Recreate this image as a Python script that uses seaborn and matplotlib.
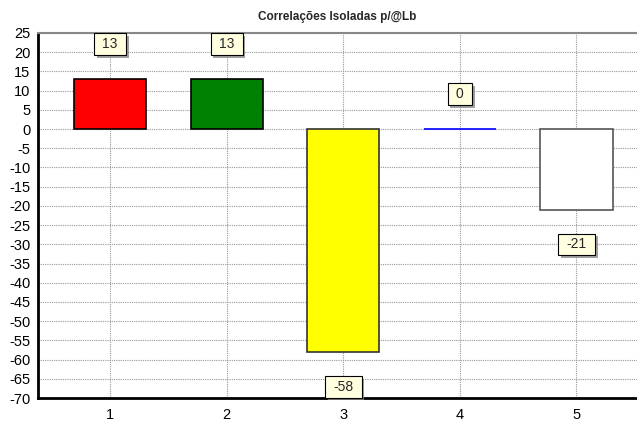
import matplotlib
matplotlib.use("Agg")
import matplotlib.pyplot as plt
import matplotlib.patheffects as pe
from matplotlib.path import Path
from matplotlib.ticker import MultipleLocator
import seaborn as sns
import pandas as pd

# Chart data
categories = ["1", "2", "3", "4", "5"]
values = [13, 13, -58, 0, -21]
bar_colors = ["#ff0000", "#008000", "#ffff00", "#0000ff", "#ffffff"]
edge_colors = ["#000000", "#000000", "#333333", "#0000ff", "#555555"]

df = pd.DataFrame({"cat": categories, "val": values})

sns.set_style("white")
plt.rcParams["font.family"] = ["Liberation Sans", "DejaVu Sans"]
plt.rcParams["axes.unicode_minus"] = False


def label_box(x0, y0, width, height, mutation_size):
    # wider than tall, like the little value tags in the original
    padx = mutation_size * 0.6
    pady = mutation_size * 0.28
    x0, y0 = x0 - padx, y0 - pady
    x1, y1 = x0 + width + 2 * padx, y0 + height + 2 * pady
    return Path([(x0, y0), (x1, y0), (x1, y1), (x0, y1), (x0, y0)], closed=True)


fig = plt.figure(figsize=(6.37, 4.25), dpi=100)
ax = fig.add_axes([0.0597, 0.0635, 0.9403, 0.8589])

sns.barplot(data=df, x="cat", y="val", hue="cat", palette=bar_colors,
            saturation=1, legend=False, width=0.62, ax=ax, zorder=3)

for patch, ec in zip(ax.patches, edge_colors):
    patch.set_edgecolor(ec)
    patch.set_linewidth(1.2)

# Axis ranges and ticks
ax.set_xlim(-0.618, 4.52)
ax.set_ylim(-70, 25)
ax.yaxis.set_major_locator(MultipleLocator(5))
ax.yaxis.set_minor_locator(MultipleLocator(1))
ax.xaxis.set_minor_locator(MultipleLocator(0.25))
ax.tick_params(axis="both", which="major", labelsize=10.5, direction="out",
               length=4, width=1, color="black", pad=1.5, labelcolor="black")
ax.tick_params(axis="both", which="minor", direction="out", length=2,
               width=0.8, color="#777777")
ax.tick_params(axis="x", which="major", pad=3)
ax.set_xlabel("")
ax.set_ylabel("")

ax.grid(True, which="major", linestyle=(0, (1, 1)), color="#999999", linewidth=0.8, zorder=0)
ax.set_axisbelow(True)

for side in ["left", "bottom"]:
    ax.spines[side].set_visible(True)
    ax.spines[side].set_color("black")
    ax.spines[side].set_linewidth(2)
ax.spines["top"].set_visible(True)
ax.spines["top"].set_color("#888888")
ax.spines["top"].set_linewidth(1.5)
ax.spines["right"].set_visible(False)

ax.set_title("Correlações Isoladas p/@Lb", fontsize=8.5, fontweight="bold", pad=9)

# Value labels in boxes
for i, v in enumerate(values):
    off = 25 if v >= 0 else -25
    t = ax.annotate(str(v), xy=(i, v), xytext=(0, off), textcoords="offset points",
                    ha="center", va="center", fontsize=10, zorder=5,
                    bbox=dict(boxstyle=label_box, facecolor="#ffffe0",
                              edgecolor="black", linewidth=0.8))
    t.get_bbox_patch().set_path_effects([
        pe.SimplePatchShadow(offset=(2, -2), shadow_rgbFace="#888888", alpha=0.8),
        pe.Normal()])

fig.savefig("out.png", dpi=100)
